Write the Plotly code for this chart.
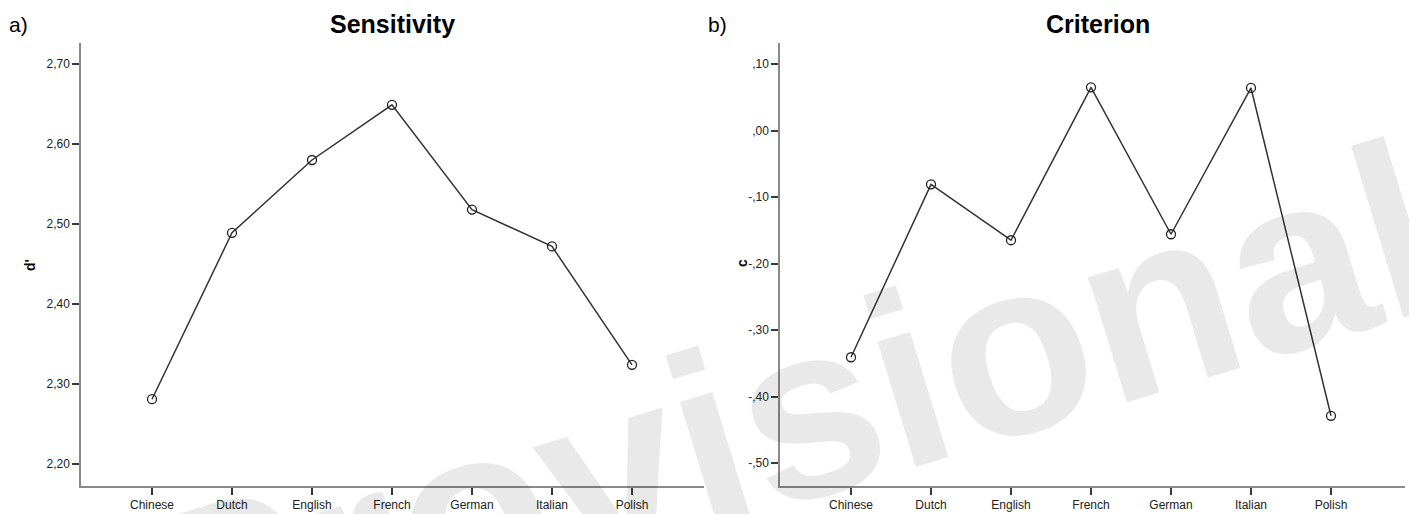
import plotly.graph_objects as go

# The page body has an 8px margin, so the figure is sized to fit the window
# and all reference pixel positions are converted with an 8px offset.
WIN_W, WIN_H = 1417, 514
OFF = 8
W, H = WIN_W - OFF, WIN_H - OFF

languages = ["Chinese", "Dutch", "English", "French", "German", "Italian", "Polish"]
sensitivity_d = [2.281, 2.489, 2.580, 2.649, 2.518, 2.472, 2.324]
criterion_c = [-0.341, -0.081, -0.165, 0.065, -0.156, 0.064, -0.429]

d_tickvals = [2.20, 2.30, 2.40, 2.50, 2.60, 2.70]
d_ticktext = ["2,20", "2,30", "2,40", "2,50", "2,60", "2,70"]
c_tickvals = [-0.50, -0.40, -0.30, -0.20, -0.10, 0.00, 0.10]
c_ticktext = ["-,50", "-,40", "-,30", "-,20", "-,10", ",00", ",10"]

FONT = "Liberation Sans, Arial, sans-serif"
LINE_C = "#333333"
AXIS_C = "#8a8a8a"
TICK_C = "#3a3a3a"


def px_x(p):
    return (p - OFF) / W


def px_y(p):
    return 1 - (p - OFF) / H


fig = go.Figure()

marker = dict(symbol="circle-open", size=9, color="#222222",
              line=dict(width=1.3, color="#222222"))

fig.add_trace(go.Scatter(x=languages, y=sensitivity_d, mode="lines+markers",
                         line=dict(color=LINE_C, width=1.5), marker=marker,
                         xaxis="x", yaxis="y", showlegend=False))
fig.add_trace(go.Scatter(x=languages, y=criterion_c, mode="lines+markers",
                         line=dict(color=LINE_C, width=1.5), marker=marker,
                         xaxis="x2", yaxis="y2", showlegend=False))

ydom = [px_y(486), px_y(43)]

common_x = dict(type="category", categoryorder="array", categoryarray=languages,
                showline=True, linecolor=AXIS_C, linewidth=1.5,
                ticks="outside", ticklen=7, tickwidth=1.5, tickcolor=TICK_C,
                showgrid=False, zeroline=False, ticklabelstandoff=0,
                tickfont=dict(family=FONT, size=12, color="#222222"))
common_y = dict(showline=True, linecolor=AXIS_C, linewidth=1.5,
                ticks="outside", ticklen=7, tickwidth=1.5, tickcolor=TICK_C,
                showgrid=False, zeroline=False, ticklabelstandoff=0,
                tickfont=dict(family=FONT, size=12, color="#222222"))

fig.update_layout(
    width=W, height=H,
    margin=dict(l=0, r=0, t=0, b=0),
    paper_bgcolor="white", plot_bgcolor="rgba(0,0,0,0)",
    xaxis=dict(common_x, domain=[px_x(81), px_x(704)], range=[-0.8875, 6.9], anchor="y"),
    yaxis=dict(common_y, domain=ydom, range=[2.1725, 2.72625], tickvals=d_tickvals,
               ticktext=d_ticktext, anchor="x"),
    xaxis2=dict(common_x, domain=[px_x(780), px_x(1405)], range=[-0.8875, 6.925], anchor="y2"),
    yaxis2=dict(common_y, domain=ydom, range=[-0.5346, 0.1316], tickvals=c_tickvals,
                ticktext=c_ticktext, anchor="x2"),
)

annotations = [
    # watermark
    dict(text="<b>Provisional</b>", x=px_x(788), y=px_y(416), xref="paper", yref="paper",
         xanchor="center", yanchor="middle", showarrow=False, textangle=-17,
         font=dict(family=FONT, size=248, color="rgba(0,0,0,0.085)")),
    dict(text="<b>Sensitivity</b>", x=px_x(392), y=px_y(24), xref="paper", yref="paper",
         xanchor="center", yanchor="middle", showarrow=False,
         font=dict(family=FONT, size=25, color="black")),
    dict(text="a)", x=px_x(7), y=px_y(24), xref="paper", yref="paper",
         xanchor="left", yanchor="middle", showarrow=False,
         font=dict(family=FONT, size=21, color="black")),
    dict(text="<b>Criterion</b>", x=px_x(1098), y=px_y(24), xref="paper", yref="paper",
         xanchor="center", yanchor="middle", showarrow=False,
         font=dict(family=FONT, size=25, color="black")),
    dict(text="b)", x=px_x(706), y=px_y(24), xref="paper", yref="paper",
         xanchor="left", yanchor="middle", showarrow=False,
         font=dict(family=FONT, size=21, color="black")),
    dict(text="<b>d'</b>", x=px_x(30), y=px_y(265), xref="paper", yref="paper",
         xanchor="center", yanchor="middle", showarrow=False, textangle=-90,
         font=dict(family=FONT, size=14, color="black")),
    dict(text="<b>c</b>", x=px_x(742), y=px_y(263), xref="paper", yref="paper",
         xanchor="center", yanchor="middle", showarrow=False, textangle=-90,
         font=dict(family=FONT, size=14, color="black")),
]
fig.update_layout(annotations=annotations)

fig.write_html("out.html")
